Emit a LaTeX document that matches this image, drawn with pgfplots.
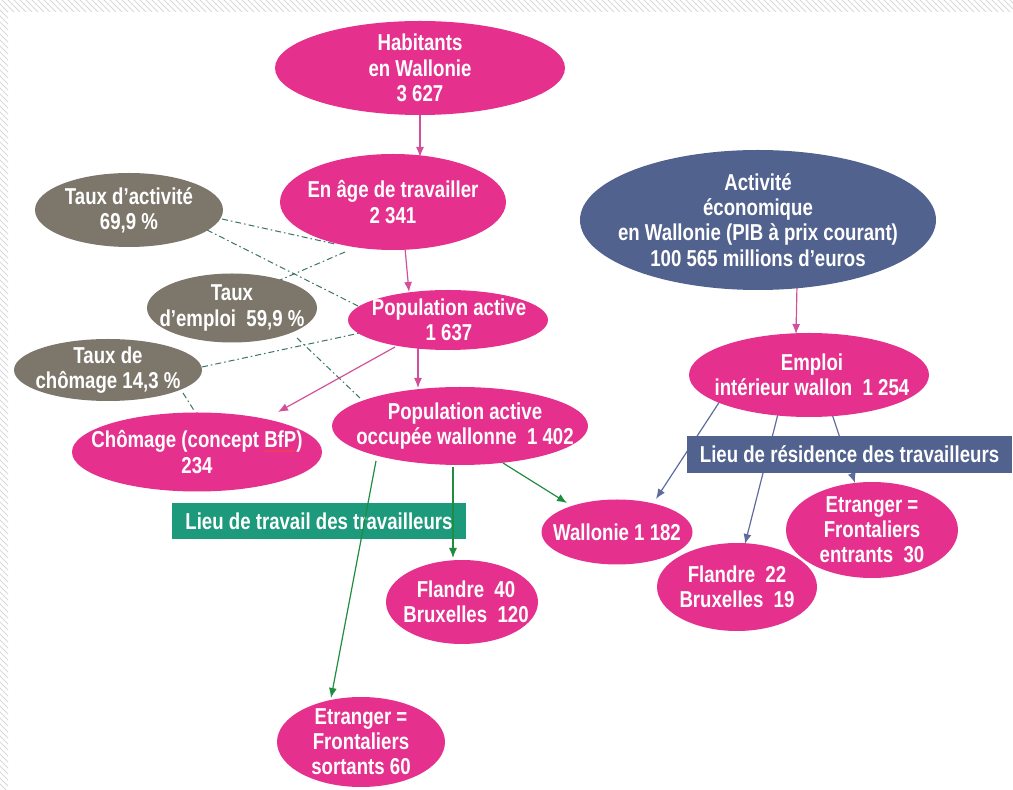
\documentclass[border=0pt]{standalone}
\usepackage{pgfplots}
\pgfplotsset{compat=1.18}
\usepackage{fontspec}
\setmainfont{Liberation Sans}[FakeStretch=0.81]
\usetikzlibrary{shapes.geometric,arrows.meta,patterns,decorations.pathmorphing}

\definecolor{pk}{HTML}{E5318D}
\definecolor{gr}{HTML}{7D766B}
\definecolor{bl}{HTML}{52628F}
\definecolor{tl}{HTML}{1C9A7B}
\definecolor{pkarrow}{HTML}{D2509A}
\definecolor{grarrow}{HTML}{1F8C3F}
\definecolor{blarrow}{HTML}{5E6C9C}
\definecolor{dd}{HTML}{3A7464}

\tikzset{
  shp/.style={ellipse, inner sep=0pt},
  txt/.style={text=white, align=center, inner sep=0pt,
    font=\bfseries\fontsize{11.5}{12.6}\selectfont},
  dl/.style={dd, line width=0.5pt, dash pattern=on 3pt off 1.5pt on 0.8pt off 1.5pt},
  ar/.style={line width=0.6pt, -{Latex[length=5pt,width=4pt]}},
}
% \bubble{x}{y}{width px}{height px}{colour}{text x}{text}
\newcommand{\bubble}[7]{%
  \node[shp, fill=#5, minimum width=#3*0.5pt, minimum height=#4*0.5pt] at (axis cs:#1,#2) {};
  \node[txt] at (axis cs:#6,#2) {#7};
}

\begin{document}
\begin{tikzpicture}
\begin{axis}[
  width=506.5pt, height=395pt, scale only axis,
  xmin=0, xmax=1013, ymin=0, ymax=790, y dir=reverse,
  hide axis, clip=false,
]
% slide decoration
\fill[pattern=north west lines, pattern color=gray!30] (axis cs:0,0) rectangle (axis cs:1013,12);
\fill[pattern=north west lines, pattern color=gray!30] (axis cs:0,12) rectangle (axis cs:8,790);

% dash-dot links behind the ellipses
\addplot[dl] coordinates {(222,219) (335,244)};
\addplot[dl] coordinates {(207,230) (360,307)};
\addplot[dl] coordinates {(345,252) (280,280)};
\addplot[dl] coordinates {(297,338) (360,398)};
\addplot[dl] coordinates {(202,367) (360,333)};
\addplot[dl] coordinates {(183,393) (195,412)};

% arrows
\addplot[pkarrow, ar] coordinates {(420,112) (420,157)};
\addplot[pkarrow, ar] coordinates {(405,248) (409,292)};
\addplot[pkarrow, ar] coordinates {(418,348) (418,388)};
\addplot[pkarrow, ar] coordinates {(395,347) (278,412)};
\addplot[pkarrow, ar] coordinates {(797,285) (796,334)};
\addplot[blarrow, ar] coordinates {(722,398) (656,499)};
\addplot[blarrow, ar] coordinates {(778,414) (745,544)};
\addplot[blarrow, ar] coordinates {(832,414) (855,483)};

% ellipses
\bubble{420}{68}{290}{94}{pk}{420}{Habitants\\en Wallonie\\3 627}
\bubble{393}{202}{226}{96}{pk}{393}{En âge de travailler\\2 341}
\bubble{758}{220}{356}{140}{bl}{758}{Activité\\économique\\en Wallonie (PIB à prix courant)\\100 565 millions d’euros}
\bubble{129}{210}{188}{74}{gr}{129}{Taux d’activité\\69,9 \%}
\bubble{232}{308}{170}{69}{gr}{232}{Taux\\d’emploi\ \ 59,9 \%}
\bubble{448}{320}{200}{60}{pk}{449}{Population active\\1 637}
\bubble{108}{370}{188}{62}{gr}{108}{Taux de\\chômage 14,3 \%}
\bubble{809}{375}{240}{84}{pk}{812}{Emploi\\intérieur wallon\ \ 1 254}
\bubble{197}{452}{250}{79}{pk}{197}{Chômage (concept BfP)\\234}
\bubble{460}{426}{256}{78}{pk}{465}{Population active\\occupée wallonne\ \ 1 402}
\bubble{617}{532}{151}{65}{pk}{617}{Wallonie 1 182}
\bubble{872}{530}{172}{96}{pk}{872}{Etranger =\\Frontaliers\\entrants\ \ 30}
\bubble{737}{587}{160}{88}{pk}{737}{Flandre\ \ 22\\Bruxelles\ \ 19}
\bubble{462}{602}{152}{84}{pk}{466}{Flandre\ \ 40\\Bruxelles\ \ 120}
\bubble{361}{742}{168}{90}{pk}{361}{Etranger =\\Frontaliers\\sortants 60}
% spell-check squiggle under BfP
\draw[red!75, line width=0.3pt, decorate, decoration={zigzag, amplitude=0.35pt, segment length=1.2pt}]
  (axis cs:263,451) -- (axis cs:295,451);

% labels in boxes
\node[txt, fill=bl, minimum width=162.5pt, minimum height=18.5pt] at (axis cs:849.5,454.5) {Lieu de résidence des travailleurs};
\node[txt, fill=tl, minimum width=147pt, minimum height=18pt] at (axis cs:319,521) {Lieu de travail des travailleurs};

% green arrows drawn over the teal box
\addplot[grarrow, ar] coordinates {(376,461) (331,698)};
\addplot[grarrow, ar] coordinates {(453,467) (453,558)};
\addplot[grarrow, ar] coordinates {(503,463) (567,503)};
\end{axis}
\end{tikzpicture}
\end{document}
